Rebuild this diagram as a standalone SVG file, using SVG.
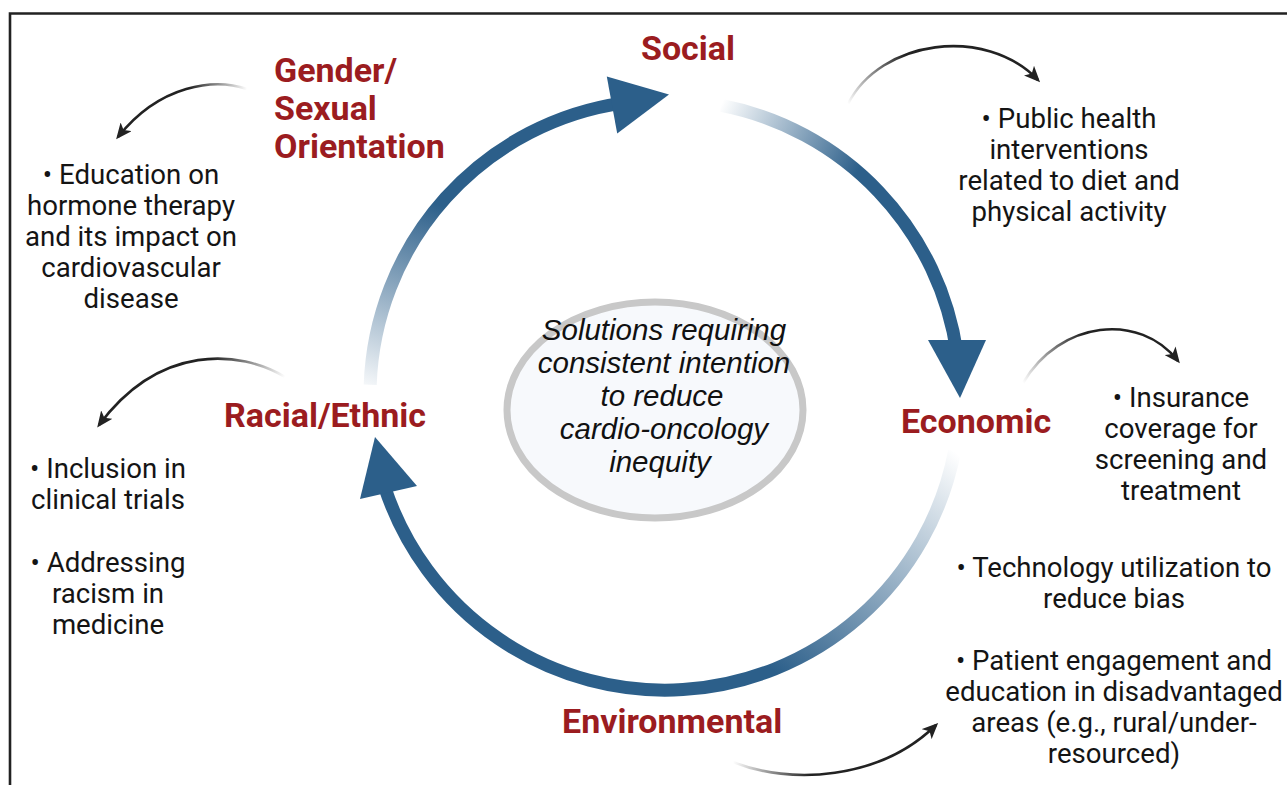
<svg xmlns="http://www.w3.org/2000/svg" width="1287" height="785" viewBox="0 0 1287 785">
  <style>
    .lbl { font-family: Roboto, "Liberation Sans", sans-serif; font-weight: 700; font-size: 34px; fill: #9b1c20; }
    .body { font-family: Roboto, "Liberation Sans", sans-serif; font-size: 27.6px; fill: #141414; text-anchor: middle; }
    .core { font-family: "Liberation Sans", Arial, sans-serif; font-style: italic; font-size: 29.5px; fill: #111; text-anchor: middle; }
    .ring { fill: none; stroke-width: 13; }
    .head { fill: #2c5f8a; }
    .thin { fill: none; stroke-width: 2.6; marker-end: url(#tip); }
  </style>
  <defs>
    <marker id="tip" markerUnits="userSpaceOnUse" viewBox="0 0 16 14" refX="13" refY="7" markerWidth="16" markerHeight="14" orient="auto">
      <path d="M0,0 L16,7 L0,14 L4,7 z" fill="#222"/>
    </marker>
    <linearGradient id="g1" gradientUnits="userSpaceOnUse" x1="372" y1="398" x2="440" y2="205">
      <stop offset="0" stop-color="#2c5f8a" stop-opacity="0"/>
      <stop offset="1" stop-color="#2c5f8a"/>
    </linearGradient>
    <linearGradient id="g2" gradientUnits="userSpaceOnUse" x1="722" y1="103" x2="857" y2="172">
      <stop offset="0" stop-color="#2c5f8a" stop-opacity="0"/>
      <stop offset="1" stop-color="#2c5f8a"/>
    </linearGradient>
    <linearGradient id="g3" gradientUnits="userSpaceOnUse" x1="955" y1="452" x2="775" y2="672">
      <stop offset="0" stop-color="#2c5f8a" stop-opacity="0"/>
      <stop offset="1" stop-color="#2c5f8a"/>
    </linearGradient>
    <linearGradient id="tA" gradientUnits="userSpaceOnUse" x1="247" y1="89" x2="190" y2="82">
      <stop offset="0" stop-color="#222" stop-opacity="0"/>
      <stop offset="1" stop-color="#222"/>
    </linearGradient>
    <linearGradient id="tB" gradientUnits="userSpaceOnUse" x1="285" y1="377" x2="215" y2="350">
      <stop offset="0" stop-color="#222" stop-opacity="0"/>
      <stop offset="1" stop-color="#222"/>
    </linearGradient>
    <linearGradient id="tC" gradientUnits="userSpaceOnUse" x1="848" y1="104" x2="900" y2="50">
      <stop offset="0" stop-color="#222" stop-opacity="0"/>
      <stop offset="1" stop-color="#222"/>
    </linearGradient>
    <linearGradient id="tD" gradientUnits="userSpaceOnUse" x1="1023" y1="383" x2="1080" y2="330">
      <stop offset="0" stop-color="#222" stop-opacity="0"/>
      <stop offset="1" stop-color="#222"/>
    </linearGradient>
    <linearGradient id="tE" gradientUnits="userSpaceOnUse" x1="733" y1="762" x2="810" y2="776">
      <stop offset="0" stop-color="#222" stop-opacity="0"/>
      <stop offset="1" stop-color="#222"/>
    </linearGradient>
  </defs>

  <rect width="1287" height="785" fill="#fff"/>
  <!-- frame -->
  <path d="M10,785 V13.5 H1287" fill="none" stroke="#222" stroke-width="2.6"/>

  <!-- central statement -->
  <g id="core">
    <ellipse cx="655" cy="410" rx="148" ry="108" fill="#f7f9fc" stroke="#c8c8c8" stroke-width="7"/>
    <text class="core" x="664" y="340">Solutions requiring</text>
    <text class="core" x="664" y="373">consistent intention</text>
    <text class="core" x="662" y="406">to reduce</text>
    <text class="core" x="664" y="439">cardio-oncology</text>
    <text class="core" x="660" y="472">inequity</text>
  </g>

  <!-- cycle connectors -->
  <g id="connectors">
    <g id="ring-racial-social">
      <path class="ring" stroke="url(#g1)" d="M370.2,384.7 A295,295 0 0 1 623.9,102.9"/>
      <polygon class="head" points="606.8,76.5 617.2,133.5 669,94.6"/>
    </g>
    <g id="ring-social-economic">
      <path class="ring" stroke="url(#g2)" d="M721.3,105.4 A295,295 0 0 1 957.1,353.9"/>
      <polygon class="head" points="928,340 986,340 960,398"/>
    </g>
    <g id="ring-economic-racial">
      <path class="ring" stroke="url(#g3)" d="M954.6,451.3 A295,295 0 0 1 384.4,486.2"/>
      <polygon class="head" points="375,437 360,499 417,486"/>
    </g>
    <path class="thin" stroke="url(#tA)" d="M247,89 C215,78 160,84 118,137"/>
    <path class="thin" stroke="url(#tB)" d="M285,377 C240,350 160,343 99,425"/>
    <path class="thin" stroke="url(#tC)" d="M848,104 C880,40 985,25 1038,80"/>
    <path class="thin" stroke="url(#tD)" d="M1023,383 C1060,320 1140,312 1178,361"/>
    <path class="thin" stroke="url(#tE)" d="M733,762 C790,785 880,780 936,725"/>
  </g>

  <g id="social">
    <text class="lbl" x="688" y="60" text-anchor="middle">Social</text>
    <g class="body">
      <text x="1069" y="128">• Public health</text>
      <text x="1069" y="159">interventions</text>
      <text x="1069" y="190">related to diet and</text>
      <text x="1069" y="221">physical activity</text>
    </g>
  </g>

  <g id="gender">
    <text class="lbl" x="274" y="82">Gender/</text>
    <text class="lbl" x="274" y="120">Sexual</text>
    <text class="lbl" x="274" y="158">Orientation</text>
    <g class="body">
      <text x="131" y="184">• Education on</text>
      <text x="131" y="215">hormone therapy</text>
      <text x="131" y="246">and its impact on</text>
      <text x="131" y="277">cardiovascular</text>
      <text x="131" y="308">disease</text>
    </g>
  </g>

  <g id="racial">
    <text class="lbl" x="224" y="427">Racial/Ethnic</text>
    <g class="body">
      <text x="108" y="478">• Inclusion in</text>
      <text x="108" y="509">clinical trials</text>
      <text x="108" y="572">• Addressing</text>
      <text x="108" y="603">racism in</text>
      <text x="108" y="634">medicine</text>
    </g>
  </g>

  <g id="economic">
    <text class="lbl" x="901" y="433">Economic</text>
    <g class="body">
      <text x="1181" y="407">• Insurance</text>
      <text x="1181" y="438">coverage for</text>
      <text x="1181" y="469">screening and</text>
      <text x="1181" y="500">treatment</text>
    </g>
  </g>

  <g id="environmental">
    <text class="lbl" x="562" y="733">Environmental</text>
    <g class="body">
      <text x="1114" y="577">• Technology utilization to</text>
      <text x="1114" y="608">reduce bias</text>
      <text x="1114" y="670">• Patient engagement and</text>
      <text x="1114" y="701">education in disadvantaged</text>
      <text x="1114" y="732">areas (e.g., rural/under-</text>
      <text x="1114" y="763">resourced)</text>
    </g>
  </g>
</svg>
